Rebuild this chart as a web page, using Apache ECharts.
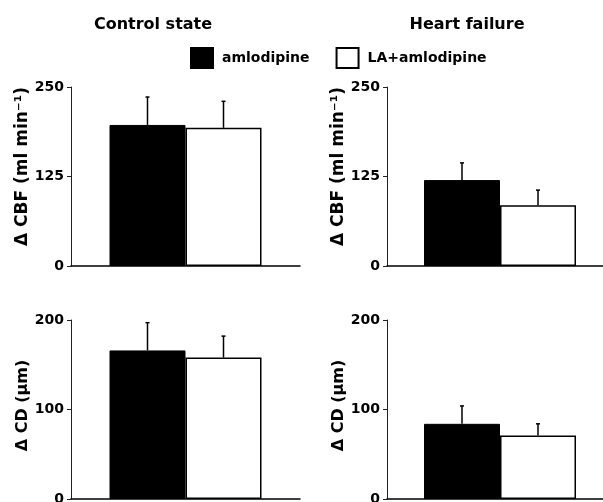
<!DOCTYPE html>
<html>
<head>
<meta charset="utf-8">
<script src="https://cdn.jsdelivr.net/npm/echarts@6/dist/echarts.min.js"></script>
<style>html,body{margin:0;padding:0;background:#fff;overflow:hidden}#c{width:620px;height:502px}</style>
</head>
<body>
<div id="c"></div>
<script>
// ---- data ----
const panelTitles = ['Control state', 'Heart failure'];
const seriesNames = ['amlodipine', 'LA+amlodipine'];
const cbfAmlo = [197, 120];
const cbfAmloSem = [39, 24];
const cbfLA = [193, 85];
const cbfLASem = [37, 21];
const cdAmlo = [166, 84];
const cdAmloSem = [31, 20];
const cdLA = [158, 71];
const cdLASem = [24, 13];
const cbfTicks = [0, 125, 250];
const cdTicks = [0, 100, 200];
const cbfName = 'Δ CBF (ml min⁻¹)';
const cdName = 'Δ CD (μm)';

const FONT = 'DejaVu Sans';
const chart = echarts.init(document.getElementById('c'), null, {renderer: 'canvas'});

const grids = [
  {left: 71, top: 87, width: 229, height: 179, outerBoundsMode: 'none', containLabel: false},
  {left: 387, top: 87, width: 226, height: 179, outerBoundsMode: 'none', containLabel: false},
  {left: 71, top: 320, width: 229, height: 179, outerBoundsMode: 'none', containLabel: false},
  {left: 387, top: 320, width: 226, height: 179, outerBoundsMode: 'none', containLabel: false}
];

const panels = [
  {a: cbfAmlo[0], ae: cbfAmloSem[0], b: cbfLA[0], be: cbfLASem[0], ticks: cbfTicks, name: cbfName, fs: 17, pad: [0, 0, 0, 20]},
  {a: cbfAmlo[1], ae: cbfAmloSem[1], b: cbfLA[1], be: cbfLASem[1], ticks: cbfTicks, name: cbfName, fs: 17, pad: [0, 0, 0, 20]},
  {a: cdAmlo[0], ae: cdAmloSem[0], b: cdLA[0], be: cdLASem[0], ticks: cdTicks, name: cdName, fs: 16, pad: [0, 0, 0, 8]},
  {a: cdAmlo[1], ae: cdAmloSem[1], b: cdLA[1], be: cdLASem[1], ticks: cdTicks, name: cdName, fs: 16, pad: [0, 0, 0, 8]}
];

const BARW = 76;
const xAxes = [], yAxes = [], series = [];
panels.forEach((p, i) => {
  xAxes.push({
    type: 'category', gridIndex: i, data: ['g'],
    axisLine: {lineStyle: {color: '#000', width: 1.5}},
    axisTick: {show: false}, axisLabel: {show: false}
  });
  const step = p.ticks[1] - p.ticks[0];
  yAxes.push({
    type: 'value', gridIndex: i, min: p.ticks[0], max: p.ticks[p.ticks.length - 1], interval: step,
    name: p.name, nameLocation: 'middle', nameGap: 38, nameRotate: 90,
    nameTextStyle: {fontFamily: FONT, fontWeight: 'bold', fontSize: p.fs, color: '#000', padding: p.pad},
    axisLine: {show: true, lineStyle: {color: '#222', width: 1}},
    axisTick: {show: true, length: 4, lineStyle: {color: '#222', width: 1}},
    axisLabel: {fontFamily: FONT, fontWeight: 'bold', fontSize: 14, color: '#000', margin: 7},
    splitLine: {show: false}
  });
  series.push({
    type: 'bar', name: seriesNames[0], xAxisIndex: i, yAxisIndex: i, data: [p.a],
    barWidth: BARW, barGap: '0%',
    itemStyle: {color: '#000', borderColor: '#000', borderWidth: 1}
  });
  series.push({
    type: 'bar', name: seriesNames[1], xAxisIndex: i, yAxisIndex: i, data: [p.b],
    barWidth: BARW, barGap: '0%',
    itemStyle: {color: '#fff', borderColor: '#000', borderWidth: 1.5}
  });
  series.push({
    type: 'custom', xAxisIndex: i, yAxisIndex: i, z: 5,
    data: [[0, p.a, p.a + p.ae, -1], [0, p.b, p.b + p.be, 1]],
    renderItem: function (params, api) {
      const c0 = api.coord([api.value(0), api.value(1)]);
      const c1 = api.coord([api.value(0), api.value(2)]);
      const side = api.value(3);
      const x = c0[0] + side * (BARW / 2);
      const capW = 2;
      return {
        type: 'group',
        children: [
          {type: 'line', shape: {x1: x, y1: c0[1], x2: x, y2: c1[1]}, style: {stroke: '#000', lineWidth: 1.5}},
          {type: 'line', shape: {x1: x - capW, y1: c1[1], x2: x + capW, y2: c1[1]}, style: {stroke: '#000', lineWidth: 1.5}}
        ]
      };
    },
    silent: true
  });
});

chart.setOption({
  animation: false,
  backgroundColor: '#fff',
  title: [
    {text: panelTitles[0], left: 148, top: 12, textAlign: 'center',
     textStyle: {fontFamily: FONT, fontWeight: 'bold', fontSize: 16, color: '#000'}},
    {text: panelTitles[1], left: 462, top: 12, textAlign: 'center',
     textStyle: {fontFamily: FONT, fontWeight: 'bold', fontSize: 16, color: '#000'}}
  ],
  legend: {
    data: seriesNames, left: 190, top: 47, padding: 0, itemWidth: 22, itemHeight: 20, itemGap: 26,
    icon: 'rect',
    textStyle: {fontFamily: FONT, fontWeight: 'bold', fontSize: 14, color: '#000', padding: [0, 0, 0, 4]}
  },
  grid: grids,
  xAxis: xAxes,
  yAxis: yAxes,
  series: series
});
</script>
</body>
</html>
